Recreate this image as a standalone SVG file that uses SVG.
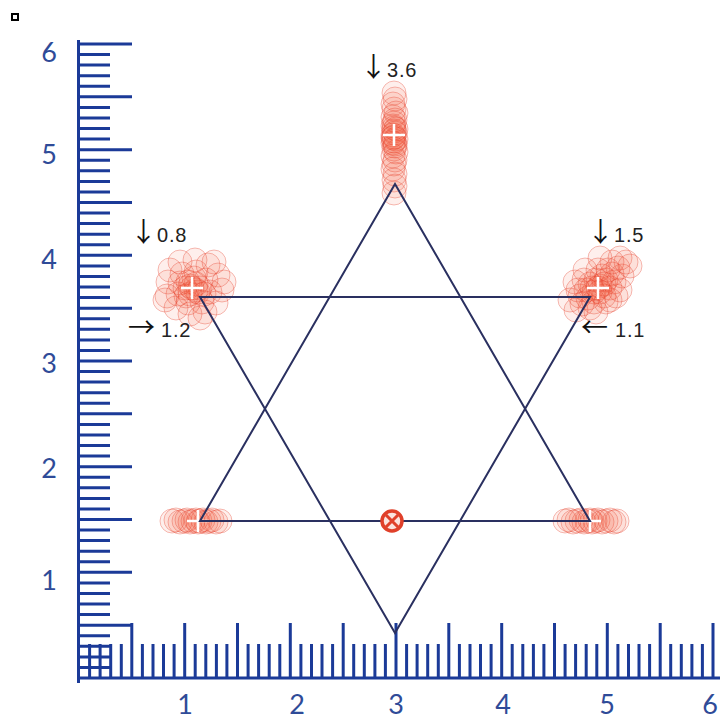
<svg xmlns="http://www.w3.org/2000/svg" xmlns:xlink="http://www.w3.org/1999/xlink" width="723" height="721" viewBox="0 0 723 721">
<style>
.rul{stroke:#1b3a98;stroke-width:3;fill:none;stroke-linecap:butt}
.axl{font-family:Lato,"Liberation Sans",sans-serif;font-size:27px;fill:#2f4b98;text-anchor:middle}
.star{stroke:#2a3060;stroke-width:2;fill:none;stroke-linejoin:miter}
.c{fill:rgba(240,80,55,0.095);stroke:rgba(230,70,50,0.36);stroke-width:1}
.plus{stroke:#ffffff;stroke-width:2.5;fill:none}
.lab{font-family:"Liberation Sans",Arial,sans-serif;font-size:20px;fill:#222;letter-spacing:0.8px}
.arr{font-family:"Noto Sans CJK SC","DejaVu Sans",sans-serif;font-size:27px;fill:#111;letter-spacing:0}
</style>
<defs>
<circle id="c" r="12"/>
</defs>
<rect x="12" y="14" width="6" height="6" fill="#fff" stroke="#000" stroke-width="2"/>
<g id="ruler">
<path class="rul" stroke-width="3.5" d="M78.5 40V683M77 678H720"/>
<path class="rul" d="M78 667.4H110M78 656.9H110M78 646.3H110M78 635.7H110M78 614.6H110M78 604H110M78 593.5H110M78 582.9H110M78 561.8H110M78 551.2H110M78 540.6H110M78 530.1H110M78 508.9H110M78 498.4H110M78 487.8H110M78 477.2H110M78 456.1H110M78 445.5H110M78 435H110M78 424.4H110M78 403.3H110M78 392.7H110M78 382.1H110M78 371.6H110M78 350.4H110M78 339.9H110M78 329.3H110M78 318.7H110M78 297.6H110M78 287H110M78 276.5H110M78 265.9H110M78 244.8H110M78 234.2H110M78 223.6H110M78 213.1H110M78 191.9H110M78 181.4H110M78 170.8H110M78 160.2H110M78 139.1H110M78 128.5H110M78 118H110M78 107.4H110M78 86.3H110M78 75.7H110M78 65.1H110M78 54.6H110"/>
<path class="rul" d="M78 625.2H132M78 572.3H132M78 519.5H132M78 466.7H132M78 413.8H132M78 361H132M78 308.2H132M78 255.3H132M78 202.5H132M78 149.7H132M78 96.8H132M78 44H132"/>
<path class="rul" d="M89.6 678V644M100.1 678V644M110.7 678V644M121.3 678V644M142.4 678V644M153 678V644M163.5 678V644M174.1 678V644M195.2 678V644M205.8 678V644M216.4 678V644M226.9 678V644M248.1 678V644M258.6 678V644M269.2 678V644M279.8 678V644M300.9 678V644M311.5 678V644M322 678V644M332.6 678V644M353.7 678V644M364.3 678V644M374.9 678V644M385.4 678V644M406.6 678V644M417.1 678V644M427.7 678V644M438.3 678V644M459.4 678V644M470 678V644M480.5 678V644M491.1 678V644M512.2 678V644M522.8 678V644M533.4 678V644M543.9 678V644M565.1 678V644M575.6 678V644M586.2 678V644M596.8 678V644M617.9 678V644M628.5 678V644M639 678V644M649.6 678V644M670.7 678V644M681.3 678V644M691.9 678V644M702.4 678V644"/>
<path class="rul" d="M131.8 678V623M184.7 678V623M237.5 678V623M290.3 678V623M343.2 678V623M396 678V623M448.8 678V623M501.7 678V623M554.5 678V623M607.3 678V623M660.2 678V623M713 678V623"/>
<text class="axl" x="49" y="62">6</text>
<text class="axl" x="49" y="164">5</text>
<text class="axl" x="49" y="269">4</text>
<text class="axl" x="49" y="373">3</text>
<text class="axl" x="49" y="478">2</text>
<text class="axl" x="49" y="590">1</text>
<text class="axl" x="185" y="714">1</text>
<text class="axl" x="297" y="714">2</text>
<text class="axl" x="396" y="714">3</text>
<text class="axl" x="503" y="714">4</text>
<text class="axl" x="607" y="714">5</text>
<text class="axl" x="710" y="714">6</text>
</g>
<g id="cluster-top" class="c">
<use href="#c" x="394" y="93"/><use href="#c" x="395" y="99"/><use href="#c" x="393" y="104"/><use href="#c" x="394" y="109"/><use href="#c" x="396" y="113"/><use href="#c" x="393" y="117"/><use href="#c" x="395" y="120"/><use href="#c" x="394" y="123"/><use href="#c" x="393" y="126"/><use href="#c" x="396" y="129"/><use href="#c" x="394" y="131"/><use href="#c" x="395" y="133"/><use href="#c" x="393" y="135"/><use href="#c" x="394" y="137"/><use href="#c" x="396" y="139"/><use href="#c" x="394" y="141"/><use href="#c" x="393" y="143"/><use href="#c" x="395" y="146"/><use href="#c" x="394" y="149"/><use href="#c" x="396" y="152"/><use href="#c" x="393" y="156"/><use href="#c" x="395" y="160"/><use href="#c" x="394" y="164"/><use href="#c" x="393" y="169"/><use href="#c" x="395" y="174"/><use href="#c" x="394" y="180"/><use href="#c" x="395" y="186"/><use href="#c" x="394" y="193"/><use href="#c" x="394" y="128"/><use href="#c" x="395" y="144"/><use href="#c" x="393" y="138"/>
</g>
<g id="cluster-left" class="c">
<use href="#c" x="170" y="270"/><use href="#c" x="180" y="262"/><use href="#c" x="195" y="260"/><use href="#c" x="208" y="265"/><use href="#c" x="218" y="275"/><use href="#c" x="222" y="290"/><use href="#c" x="216" y="303"/><use href="#c" x="205" y="312"/><use href="#c" x="190" y="314"/><use href="#c" x="176" y="308"/><use href="#c" x="167" y="296"/><use href="#c" x="168" y="282"/><use href="#c" x="182" y="274"/><use href="#c" x="196" y="272"/><use href="#c" x="206" y="280"/><use href="#c" x="210" y="292"/><use href="#c" x="202" y="302"/><use href="#c" x="188" y="303"/><use href="#c" x="178" y="294"/><use href="#c" x="180" y="283"/><use href="#c" x="188" y="282"/><use href="#c" x="196" y="284"/><use href="#c" x="198" y="292"/><use href="#c" x="190" y="294"/><use href="#c" x="185" y="288"/><use href="#c" x="194" y="278"/><use href="#c" x="200" y="288"/><use href="#c" x="192" y="288"/><use href="#c" x="186" y="296"/><use href="#c" x="204" y="294"/><use href="#c" x="165" y="300"/><use href="#c" x="214" y="262"/><use href="#c" x="224" y="282"/><use href="#c" x="200" y="318"/><use href="#c" x="190" y="286"/><use href="#c" x="196" y="290"/>
</g>
<g id="cluster-right" class="c">
<use href="#c" x="626" y="262"/><use href="#c" x="618" y="268"/><use href="#c" x="612" y="274"/><use href="#c" x="606" y="280"/><use href="#c" x="600" y="286"/><use href="#c" x="594" y="292"/><use href="#c" x="588" y="298"/><use href="#c" x="582" y="304"/><use href="#c" x="576" y="310"/><use href="#c" x="580" y="296"/><use href="#c" x="590" y="284"/><use href="#c" x="602" y="276"/><use href="#c" x="610" y="288"/><use href="#c" x="604" y="296"/><use href="#c" x="594" y="302"/><use href="#c" x="586" y="290"/><use href="#c" x="596" y="280"/><use href="#c" x="608" y="270"/><use href="#c" x="614" y="282"/><use href="#c" x="598" y="288"/><use href="#c" x="600" y="292"/><use href="#c" x="592" y="288"/><use href="#c" x="604" y="284"/><use href="#c" x="616" y="296"/><use href="#c" x="584" y="280"/><use href="#c" x="622" y="276"/><use href="#c" x="606" y="302"/><use href="#c" x="590" y="308"/><use href="#c" x="612" y="262"/><use href="#c" x="578" y="290"/><use href="#c" x="630" y="266"/><use href="#c" x="598" y="270"/><use href="#c" x="585" y="270"/><use href="#c" x="575" y="282"/><use href="#c" x="620" y="290"/><use href="#c" x="610" y="300"/><use href="#c" x="570" y="300"/><use href="#c" x="596" y="312"/><use href="#c" x="620" y="258"/><use href="#c" x="600" y="258"/>
</g>
<g id="cluster-bottom-left" class="c">
<use href="#c" x="172" y="521"/><use href="#c" x="176" y="520"/><use href="#c" x="180" y="522"/><use href="#c" x="184" y="521"/><use href="#c" x="187" y="520"/><use href="#c" x="190" y="522"/><use href="#c" x="193" y="521"/><use href="#c" x="196" y="520"/><use href="#c" x="198" y="522"/><use href="#c" x="200" y="521"/><use href="#c" x="203" y="520"/><use href="#c" x="206" y="522"/><use href="#c" x="209" y="521"/><use href="#c" x="212" y="520"/><use href="#c" x="216" y="522"/><use href="#c" x="220" y="521"/>
</g>
<g id="cluster-bottom-right" class="c">
<use href="#c" x="565" y="521"/><use href="#c" x="569" y="520"/><use href="#c" x="573" y="522"/><use href="#c" x="577" y="521"/><use href="#c" x="581" y="520"/><use href="#c" x="584" y="522"/><use href="#c" x="587" y="521"/><use href="#c" x="590" y="520"/><use href="#c" x="592" y="522"/><use href="#c" x="595" y="521"/><use href="#c" x="598" y="520"/><use href="#c" x="602" y="522"/><use href="#c" x="606" y="521"/><use href="#c" x="610" y="520"/><use href="#c" x="614" y="522"/><use href="#c" x="617" y="521"/>
</g>
<g id="markers" class="plus">
<path d="M383 135H405M394 124V146"/>
<path d="M181 288H203M192 277V299"/>
<path d="M587 288H609M598 277V299"/>
<path d="M187 521H209M198 510V532"/>
<path d="M579 521H601M590 510V532"/>
</g>
<g id="star" class="star">
<path d="M395 184L200 521H590Z"/>
<path d="M200 297H590L395 633Z"/>
</g>
<g id="center-mark">
<circle cx="392" cy="521" r="10" fill="#fbe3de" stroke="#e0402a" stroke-width="3.5"/>
<path d="M386 515L398 527M398 515L386 527" stroke="#e0402a" stroke-width="3"/>
</g>
<g id="labels">
<text class="lab" x="360" y="77"><tspan class="arr">↓</tspan><tspan>3.6</tspan></text>
<text class="lab" x="130" y="242"><tspan class="arr">↓</tspan><tspan>0.8</tspan></text>
<text class="lab" x="128" y="337"><tspan class="arr">→</tspan><tspan dx="6">1.2</tspan></text>
<text class="lab" x="587" y="242"><tspan class="arr">↓</tspan><tspan>1.5</tspan></text>
<text class="lab" x="581" y="337"><tspan class="arr">←</tspan><tspan dx="7">1.1</tspan></text>
</g>
</svg>
